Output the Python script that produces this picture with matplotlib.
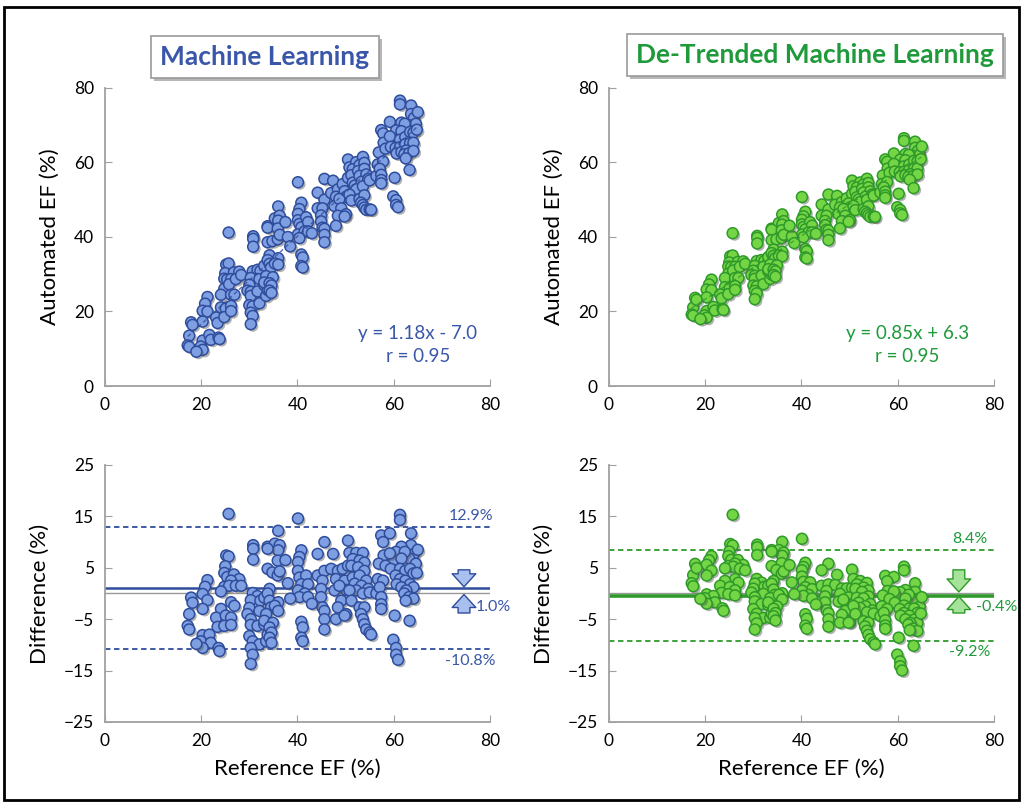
import numpy as np
import matplotlib
matplotlib.use("Agg")
import matplotlib.pyplot as plt
import matplotlib.patheffects as pe
from matplotlib.patches import Rectangle

plt.rcParams['font.family'] = ['Lato', 'DejaVu Sans']

# reference EF (%) and ML difference (automated - reference)
ref_ef = [25.7, 30.8, 30.8, 30.8, 33.8, 25.2, 25.7, 25.0, 24.8, 25.4, 26.8, 27.9, 26.2, 21.3, 20.8,
          24.8, 25.8, 27.2, 28.3, 24.1, 17.9, 20.3, 21.3, 30.7, 31.7, 30.3, 32.3, 33.1, 26.2, 26.9,
          20.3, 24.1, 30.0, 32.1, 29.6, 30.3, 17.5, 23.1, 25.1, 26.2, 17.2, 17.5, 23.4, 24.8, 26.2,
          30.3, 31.7, 33.1, 20.3, 21.7, 19.9, 22.0, 20.3, 23.6, 23.8, 30.0, 30.7, 32.1, 30.3, 30.7,
          30.3, 33.5, 33.8, 18.2, 19.0,
          40.1, 36.0, 35.3, 36.3, 36.0, 33.8, 40.8, 40.4, 40.1, 45.6, 44.2, 47.4, 50.5, 35.9, 33.8,
          34.8, 35.9, 36.3, 40.1, 40.4, 41.8, 40.8, 42.2, 44.2, 45.6, 47.0, 48.4, 49.4, 50.5, 45.2,
          48.0, 49.8, 34.2, 33.8, 40.1, 41.5, 40.4, 42.2, 44.9, 47.7, 50.1, 48.7, 34.2, 34.5, 33.5,
          33.1, 36.0, 35.3, 36.0, 44.9, 45.2, 45.6, 49.1, 48.4, 50.1, 34.9, 34.2, 34.6, 34.2, 34.6,
          40.8, 41.1, 40.8, 45.6, 45.6, 48.0, 49.8, 41.1, 38.0, 38.5, 37.5, 43.0,
          61.3, 61.3, 63.6, 57.4, 59.2, 57.8, 63.6, 64.2, 63.2, 64.6, 61.6, 60.5, 62.3, 59.9, 61.6,
          57.9, 59.2, 56.9, 58.3, 59.4, 61.3, 62.4, 63.4, 64.1, 60.4, 61.3, 62.4, 63.4, 64.1, 60.6,
          61.6, 62.6, 62.2, 63.2, 64.1, 62.5, 50.8, 52.2, 53.6, 51.5, 52.9, 53.9, 51.2, 52.6, 53.9,
          51.5, 52.9, 54.3, 51.9, 53.3, 54.7, 52.2, 53.6, 55.0, 50.8, 56.4, 51.2, 56.7, 57.8, 57.1,
          57.4, 57.4, 57.4, 52.9, 53.9, 53.2, 53.6, 53.9, 54.3, 55.0, 55.3, 60.2, 63.3, 59.9, 60.5,
          60.5, 60.9, 65.0, 64.8]
ml_diff = [15.5, 9.4, 8.7, 6.6, 9.1, 7.4, 7.2, 5.3, 4.0, 3.2, 3.7, 2.8, 2.5, 2.6, 1.3,
           1.3, 1.5, 1.5, 1.5, 0.4, -0.8, -0.1, -1.3, 0.1, -0.5, -1.3, -1.4, -0.8, -1.7, -2.4,
           -3.0, -3.0, -2.8, -3.4, -4.0, -5.0, -4.0, -4.7, -4.3, -4.7, -6.3, -7.0, -6.5, -6.3, -6.1,
           -6.1, -6.3, -6.0, -8.1, -8.0, -9.3, -9.6, -10.6, -10.6, -11.2, -8.3, -9.3, -9.9, -10.6, -11.9,
           -13.7, -9.3, -8.0, -1.8, -9.8,
           14.6, 12.2, 9.7, 9.4, 8.4, 8.7, 8.4, 7.1, 6.1, 10.0, 7.7, 7.7, 10.3, 6.4, 4.8,
           4.1, 3.5, 4.3, 4.4, 3.1, 3.5, 1.8, 1.8, 3.5, 4.4, 4.8, 4.4, 4.8, 5.4, 2.5,
           2.8, 2.5, 0.9, 0.0, 0.6, 0.0, -0.7, -0.7, 0.9, 0.6, 0.7, 1.5, -1.4, -2.7, -4.0,
           -5.3, -1.7, -2.4, -3.4, -0.7, -2.7, -3.4, -1.4, -2.7, -4.0, -5.7, -6.6, -7.6, -8.6, -9.6,
           -5.5, -6.6, -8.6, -5.0, -7.0, -5.0, -4.3, -9.3, 2.0, -1.0, 6.5, -2.0,
           15.3, 14.3, 11.7, 11.3, 11.7, 10.0, 9.4, 7.7, 6.8, 5.8, 9.1, 8.1, 8.1, 6.4, 6.8,
           7.4, 7.8, 5.8, 5.4, 4.8, 4.8, 4.4, 4.8, 3.9, 3.5, 2.8, 2.5, 1.8, 1.2, 1.8,
           1.2, 0.6, 0.0, -0.7, -1.0, -1.4, 7.9, 7.9, 7.9, 6.7, 6.4, 6.0, 5.4, 5.1, 4.4,
           3.1, 3.5, 2.5, 1.9, 1.5, 0.9, 0.6, 0.0, 0.2, 0.6, 0.0, -1.4, 2.8, 2.5, 1.2,
           -0.7, -2.1, -3.0, -2.7, -2.7, -4.0, -5.0, -6.0, -7.0, -7.6, -8.0, -4.3, -5.3, -9.0, -10.6,
           -11.9, -12.9, 8.5, 4.0]

# regression and limits printed on the chart
ml_fit = (1.18, -7.0)
dt_fit = (0.85, 6.3)
ml_limits = (12.9, 1.0, -10.8)
dt_limits = (8.4, -0.4, -9.2)

ref_ef = np.array(ref_ef)
ml_auto = ref_ef + np.array(ml_diff)
# de-trending rescales the ML output so its fit slope/intercept go from ml_fit to dt_fit
k = dt_fit[0] / ml_fit[0]
dt_auto = k * ml_auto + (dt_fit[1] - k * ml_fit[1])

blue_txt = '#3a56a8'
blue_fc, blue_ec, blue_lt = '#7f9fe3', '#2f4d9c', '#a9bfee'
green_txt = '#1f9a3a'
green_fc, green_ec, green_lt = '#74d645', '#2f9a2a', '#a6e39a'

fig = plt.figure(figsize=(10.24, 8.02), dpi=100)
fig.patches.append(Rectangle((4 / 1024, 2 / 802), 1015 / 1024, 793 / 802, transform=fig.transFigure,
                             fill=False, ec='black', lw=2))

pos = {'tl': [0.1025, 0.5187, 0.376, 0.3716], 'tr': [0.5947, 0.5187, 0.376, 0.3716],
       'bl': [0.1025, 0.0998, 0.376, 0.3204], 'br': [0.5947, 0.0998, 0.376, 0.3204]}


def style(ax):
    for s in ['top', 'right']:
        ax.spines[s].set_visible(False)
    for s in ['left', 'bottom']:
        ax.spines[s].set_color('#a0a0a0')
        ax.spines[s].set_linewidth(1.3)
    ax.tick_params(direction='in', length=5, color='#a0a0a0', labelsize=12.5, pad=8)
    ax.set_xlim(0, 80)
    ax.set_xticks([0, 20, 40, 60, 80])


def dots(ax, x, y, fc, ec):
    sc = ax.scatter(x, y, s=62, c=fc, edgecolors=ec, linewidths=1.1, zorder=3)
    sc.set_path_effects([pe.withSimplePatchShadow(offset=(1.5, -1.5), shadow_rgbFace='#555555', alpha=0.45)])


def top_panel(ax, y, fit, fc, ec, txt, tx):
    style(ax)
    ax.set_ylim(0, 80)
    ax.set_yticks([0, 20, 40, 60, 80])
    dots(ax, ref_ef, y, fc, ec)
    xs = np.array([ref_ef.min(), ref_ef.max()])
    ax.plot(xs, fit[0] * xs + fit[1], ls=(0, (3, 2)), color=ec, lw=1, alpha=0.8, zorder=4)
    sign = '-' if fit[1] < 0 else '+'
    ax.text(tx, 14, 'y = %.2fx %s %.1f' % (fit[0], sign, abs(fit[1])), color=txt, fontsize=13.5,
            ha='center', va='center')
    ax.text(tx, 8, 'r = 0.95', color=txt, fontsize=13.5, ha='center', va='center')
    ax.set_ylabel('Automated EF (%)', fontsize=16, labelpad=10)


def arrow(ax, x, y0, y1, fc, ec):
    ax.annotate('', xy=(x, y1), xytext=(x, y0),
                arrowprops=dict(arrowstyle='simple,head_length=0.55,head_width=1.0,tail_width=0.5',
                                mutation_scale=17, fc=fc, ec=ec, lw=1, shrinkA=0, shrinkB=0), zorder=5)


def ba_panel(ax, y, lim, fc, ec, lt, txt, arrow_x, lab_x, mean_lw, mean_dx):
    style(ax)
    ax.set_ylim(-25, 25)
    ax.set_yticks([25, 15, 5, -5, -15, -25])
    ax.axhline(0, color='#999999', lw=1, zorder=1)
    ax.axhline(lim[1], color=ec, lw=mean_lw, zorder=2)
    for v in (lim[0], lim[2]):
        ax.axhline(v, color=ec, lw=1.3, ls=(0, (3, 2)), zorder=2)
    dots(ax, ref_ef, y - ref_ef, fc, ec)
    ax.text(lab_x, lim[0] + 0.9, '%.1f%%' % lim[0], color=txt, fontsize=11.5, ha='center', va='bottom')
    ax.text(lab_x, lim[2] - 0.9, '%.1f%%' % lim[2], color=txt, fontsize=11.5, ha='center', va='top')
    ax.text(arrow_x + mean_dx, -2.6, '%.1f%%' % lim[1], color=txt, fontsize=11.5, ha='left', va='center')
    arrow(ax, arrow_x, 4.6, max(lim[1], 0) + 0.3, lt, ec)
    arrow(ax, arrow_x, -3.8, min(lim[1], 0) - 0.2, lt, ec)
    ax.set_ylabel('Difference (%)', fontsize=16, labelpad=10)
    ax.set_xlabel('Reference EF (%)', fontsize=16, labelpad=7)


ax1 = fig.add_axes(pos['tl'])
top_panel(ax1, ml_auto, ml_fit, blue_fc, blue_ec, blue_txt, 65)
ax2 = fig.add_axes(pos['tr'])
top_panel(ax2, dt_auto, dt_fit, green_fc, green_ec, green_txt, 62)
ax3 = fig.add_axes(pos['bl'])
ba_panel(ax3, ml_auto, ml_limits, blue_fc, blue_ec, blue_lt, blue_txt, 74.6, 76, 1.8, 2.4)
ax4 = fig.add_axes(pos['br'])
ba_panel(ax4, dt_auto, dt_limits, green_fc, green_ec, green_lt, green_txt, 72.7, 75, 2.6, 3.6)

box = dict(boxstyle='square,pad=0.35', fc='white', ec='#999999', lw=1.2,
           path_effects=[pe.withSimplePatchShadow(offset=(2, -2), shadow_rgbFace='#888888', alpha=0.6)])
fig.text(265 / 1024, 1 - 57 / 802, 'Machine Learning', color=blue_txt, fontsize=19, fontweight='bold',
         ha='center', va='center', bbox=box)
fig.text(815 / 1024, 1 - 55 / 802, 'De-Trended Machine Learning', color=green_txt, fontsize=19,
         fontweight='bold', ha='center', va='center', bbox=box)

fig.savefig('out.png', dpi=100)
